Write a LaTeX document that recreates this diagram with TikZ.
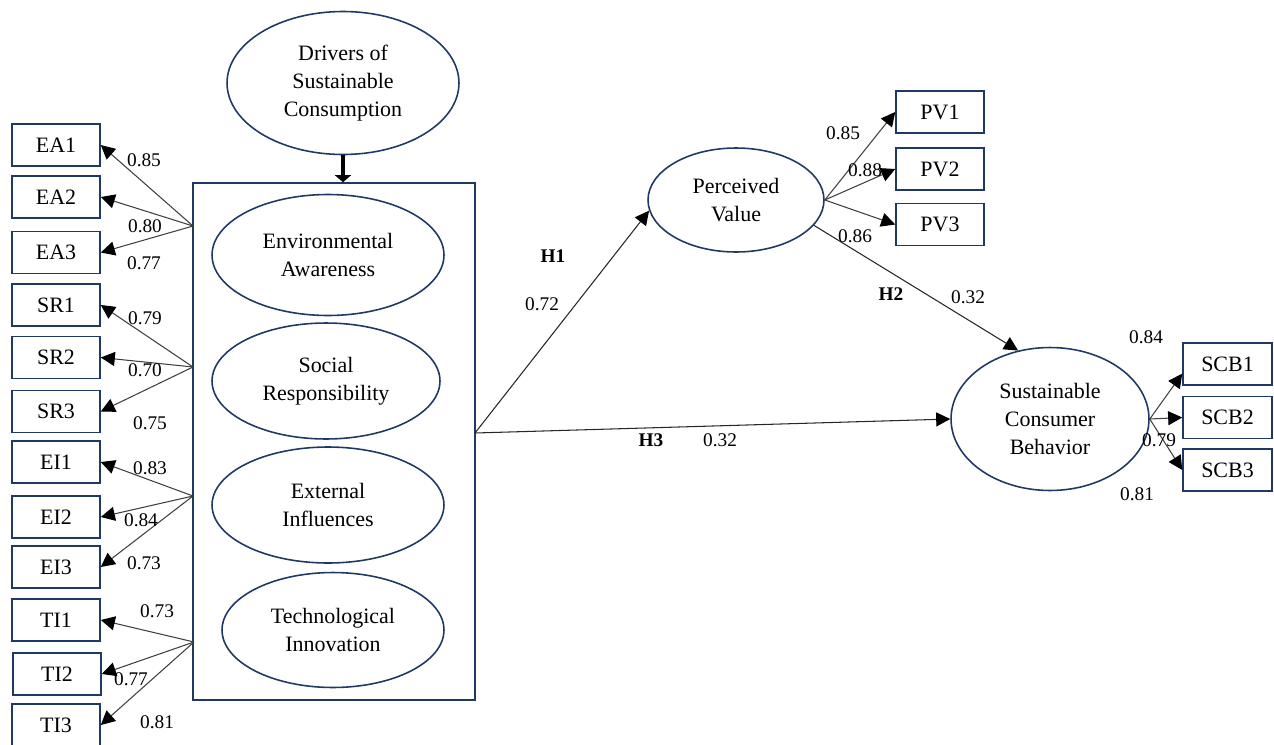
\documentclass[tikz,border=0pt]{standalone}
\usepackage{fontspec}
\setmainfont{Liberation Serif}
\usepackage{tikz}
\usetikzlibrary{shapes.geometric, arrows.meta}
\definecolor{navy}{RGB}{31,56,100}

\begin{document}
\begin{tikzpicture}[x=0.02cm, y=-0.02cm,
    latent/.style={ellipse, draw=navy, line width=0.9pt, align=center, inner sep=0pt, font=\fontsize{12.5}{16}\selectfont},
    ind/.style={rectangle, draw=navy, line width=0.9pt, minimum width=1.76cm, minimum height=0.84cm, inner sep=0pt, font=\fontsize{12.5}{16}\selectfont},
    coef/.style={inner sep=0pt, font=\fontsize{11}{13}\selectfont},
    hyp/.style={inner sep=0pt, font=\bfseries\fontsize{11}{13}\selectfont},
    load/.style={-{Triangle[length=8pt, width=8pt, color=black]}, draw=black!75, line width=0.6pt},
    arrow/.style={-{Triangle[length=8pt, width=8pt, color=black]}, draw=black!85, line width=0.6pt}
]
    \useasboundingbox (0,0) rectangle (1274,744);

    \node[draw=navy, line width=0.9pt, minimum width=5.64cm, minimum height=10.34cm, inner sep=0pt] (block) at (334,441.5) {};

    \node[latent, minimum width=4.64cm, minimum height=2.86cm] (drivers) at (343,83) {Drivers of\\Sustainable\\Consumption};

    \node[latent, minimum width=4.64cm, minimum height=2.42cm] (ea) at (328,255) {Environmental\\Awareness};
    \node[latent, minimum width=4.56cm, minimum height=2.32cm] (sr) at (326,381) {Social\\Responsibility};
    \node[latent, minimum width=4.64cm, minimum height=2.32cm] (ei) at (328,505) {External\\Influences};
    \node[latent, minimum width=4.44cm, minimum height=2.30cm] (ti) at (333,630) {Technological\\Innovation};

    \node[latent, minimum width=3.52cm, minimum height=2.08cm] (pv) at (736,200) {Perceived\\Value};
    \node[latent, minimum width=3.96cm, minimum height=2.86cm] (scb) at (1050,419) {Sustainable\\Consumer\\Behavior};

    \node[ind] (ea1) at (56,145) {EA1};
    \node[ind] (ea2) at (56,197) {EA2};
    \node[ind] (ea3) at (56,252.5) {EA3};
    \node[ind] (sr1) at (56,305) {SR1};
    \node[ind] (sr2) at (56,357.5) {SR2};
    \node[ind] (sr3) at (56,411.5) {SR3};
    \node[ind] (ei1) at (56,462) {EI1};
    \node[ind] (ei2) at (56,517) {EI2};
    \node[ind] (ei3) at (56,567) {EI3};
    \node[ind] (ti1) at (56,620) {TI1};
    \node[ind] (ti2) at (57,674) {TI2};
    \node[ind] (ti3) at (56,725) {TI3};

    \node[ind] (pv1) at (940,112) {PV1};
    \node[ind] (pv2) at (940,169) {PV2};
    \node[ind] (pv3) at (940,224.5) {PV3};

    \node[ind, minimum width=1.78cm] (scb1) at (1227.5,364) {SCB1};
    \node[ind, minimum width=1.78cm] (scb2) at (1227.5,417.5) {SCB2};
    \node[ind, minimum width=1.78cm] (scb3) at (1227.5,470) {SCB3};

    \coordinate (eaF) at (193,226);
    \coordinate (srF) at (193,367);
    \coordinate (eiF) at (193,496);
    \coordinate (tiF) at (194,642);
    \coordinate (hF) at (475,433);

    \draw[-{Triangle[length=4pt, width=9pt]}, line width=2.5pt] (drivers.south) -- (drivers.south |- block.north);

    \draw[load] (eaF) -- (ea1.east);
    \draw[load] (eaF) -- (ea2.east);
    \draw[load] (eaF) -- (ea3.east);
    \draw[load] (srF) -- (sr1.east);
    \draw[load] (srF) -- (sr2.east);
    \draw[load] (srF) -- (sr3.east);
    \draw[load] (eiF) -- (ei1.east);
    \draw[load] (eiF) -- (ei2.east);
    \draw[load] (eiF) -- (ei3.east);
    \draw[load] (tiF) -- (ti1.east);
    \draw[load] (tiF) -- (ti2.east);
    \draw[load] (tiF) -- (ti3.east);

    \draw[load] (pv.east) -- (pv1.west);
    \draw[load] (pv.east) -- (pv2.west);
    \draw[load] (pv.east) -- (pv3.west);
    \draw[load] (scb.east) -- (scb1.192);
    \draw[load] (scb.east) -- (scb2.west);
    \draw[load] (scb.east) -- (scb3.west);

    \draw[arrow] (hF) -- (pv.187);
    \draw[arrow] (pv.-18) -- (scb.115);
    \draw[arrow] (hF) -- (scb.west);

    \node[coef] (cEA1) at (144,160) {0.85};
    \node[coef] (cEA2) at (145,226) {0.80};
    \node[coef] (cEA3) at (144,263) {0.77};
    \node[coef] (cSR1) at (145,318) {0.79};
    \node[coef] (cSR2) at (145,370) {0.70};
    \node[coef] (cSR3) at (150,423) {0.75};
    \node[coef] (cEI1) at (150,468) {0.83};
    \node[coef] (cEI2) at (141,520) {0.84};
    \node[coef] (cEI3) at (144,563) {0.73};
    \node[coef] (cTI1) at (157,611) {0.73};
    \node[coef] (cTI2) at (131,679) {0.77};
    \node[coef] (cTI3) at (157,722) {0.81};

    \node[coef] (cPV1) at (843,133) {0.85};
    \node[coef] (cPV2) at (865,170) {0.88};
    \node[coef] (cPV3) at (855,236) {0.86};
    \node[coef] (cSCB1) at (1146,337) {0.84};
    \node[coef] (cSCB2) at (1159,440) {0.79};
    \node[coef] (cSCB3) at (1137,494) {0.81};

    \node[hyp] (h1) at (553,256) {H1};
    \node[coef] (cH1) at (542,304) {0.72};
    \node[hyp] (h2) at (891,294) {H2};
    \node[coef] (cH2) at (968,297) {0.32};
    \node[hyp] (h3) at (651,440) {H3};
    \node[coef] (cH3) at (720,440) {0.32};
\end{tikzpicture}
\end{document}
